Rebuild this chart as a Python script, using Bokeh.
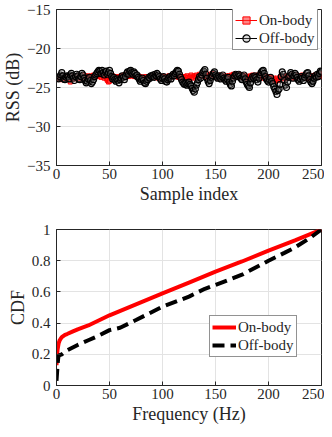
from bokeh.plotting import figure
from bokeh.layouts import column
from bokeh.models import FixedTicker, CustomJSTickFormatter, Legend, LegendItem, Range1d
from bokeh.embed import file_html
from bokeh.resources import INLINE

FONT = "'Liberation Serif', 'Times New Roman', serif"
TXT = "#262626"

sample_index = list(range(1, 251))

on_body_rss = [
    -23.8, -23.6, -23.9, -23.7, -24.0, -23.6, -23.5, -23.8, -23.9, -23.6,
    -23.7, -24.0, -24.3, -23.9, -23.6, -23.5, -23.7, -23.9, -23.6, -23.8,
    -23.5, -23.7, -23.9, -23.6, -23.4, -23.7, -23.8, -23.5, -23.6, -23.9,
    -23.7, -23.5, -23.8, -23.6, -23.4, -23.7, -23.5, -23.3, -23.6, -23.4,
    -23.5, -23.7, -23.4, -23.6, -23.8, -23.5, -23.9, -24.1, -24.3, -24.2,
    -23.8, -23.6, -23.5, -23.7, -23.9, -23.6, -23.8, -24.0, -23.7, -23.6,
    -23.5, -23.8, -23.6, -23.4, -23.7, -23.3, -23.5, -23.6, -23.4, -23.3,
    -23.5, -23.4, -23.6, -23.3, -23.5, -23.7, -23.5, -23.8, -23.6, -23.9,
    -23.7, -24.0, -23.8, -23.6, -23.9, -24.1, -23.8, -23.6, -23.7, -23.5,
    -23.6, -23.4, -23.7, -23.5, -23.6, -23.8, -23.5, -23.7, -23.9, -23.6,
    -23.8, -23.6, -23.9, -24.0, -23.7, -23.5, -23.8, -23.6, -23.4, -23.6,
    -23.5, -23.3, -23.6, -23.4, -23.7, -23.5, -23.8, -23.6, -23.9, -23.7,
    -23.6, -23.8, -23.5, -23.7, -23.9, -23.6, -23.4, -23.7, -23.8, -23.5,
    -23.6, -23.4, -23.7, -23.5, -23.3, -23.6, -23.4, -23.5, -23.3, -23.6,
    -23.4, -23.7, -23.5, -23.6, -23.3, -23.5, -23.2, -23.4, -23.6, -23.5,
    -23.7, -23.5, -23.8, -23.6, -23.4, -23.7, -23.9, -23.6, -23.8, -23.5,
    -23.6, -23.8, -23.5, -23.7, -23.4, -23.6, -23.3, -23.5, -23.7, -23.4,
    -23.6, -23.3, -23.5, -23.7, -23.4, -23.6, -23.8, -23.5, -23.7, -23.9,
    -23.6, -23.8, -23.5, -23.7, -23.4, -23.6, -23.5, -23.8, -23.6, -23.4,
    -23.5, -23.7, -23.4, -23.6, -23.8, -23.5, -23.7, -23.9, -23.6, -23.8,
    -24.0, -23.7, -23.9, -24.1, -23.8, -24.2, -24.0, -23.8, -24.1, -23.9,
    -23.7, -23.5, -23.8, -23.6, -23.9, -23.7, -23.5, -23.6, -23.8, -23.5,
    -23.4, -23.6, -23.8, -23.5, -23.7, -23.4, -23.6, -23.8, -23.5, -23.7,
    -23.6, -23.4, -23.7, -23.5, -23.8, -23.6, -23.4, -23.7, -23.9, -23.6,
    -23.8, -23.5, -23.7, -23.4, -23.6, -23.5, -23.3, -23.6, -23.4, -23.2,
]

off_body_rss = [
    -23.8, -23.9, -23.6, -23.4, -23.1, -23.5, -23.9, -24.0, -23.7, -23.5,
    -23.6, -23.9, -23.4, -23.2, -23.5, -23.8, -24.1, -23.6, -23.3, -23.5,
    -23.9, -24.0, -23.6, -23.2, -23.4, -23.8, -24.1, -24.4, -24.2, -23.9,
    -23.7, -24.1, -24.5, -24.3, -24.0, -23.6, -23.4, -23.2, -23.0, -22.8,
    -22.9, -23.2, -22.8, -23.1, -23.4, -23.0, -22.9, -23.3, -23.1, -22.8,
    -23.2, -23.6, -23.9, -23.7, -24.0, -24.2, -23.9, -24.1, -24.4, -24.0,
    -23.8, -23.5, -23.7, -24.0, -23.6, -23.2, -23.0, -23.3, -22.9, -22.8,
    -23.1, -23.3, -23.0, -23.2, -23.5, -23.4, -23.7, -23.9, -24.2, -24.0,
    -23.8, -24.1, -24.4, -24.5, -24.2, -24.0, -23.7, -23.8, -23.5, -23.6,
    -23.4, -23.7, -23.3, -23.5, -23.2, -23.4, -23.6, -23.9, -24.1, -23.8,
    -23.6, -23.9, -24.2, -24.3, -24.0, -23.8, -23.6, -23.9, -23.5, -23.3,
    -23.5, -23.2, -23.0, -22.8, -22.9, -23.3, -23.7, -24.0, -24.3, -24.5,
    -24.6, -24.4, -24.7, -24.5, -24.3, -24.6, -24.8, -25.1, -25.4, -25.6,
    -25.2, -24.7, -24.4, -24.0, -23.6, -23.8, -23.4, -23.1, -22.9, -22.7,
    -23.3, -23.8, -24.2, -24.5, -24.1, -23.7, -23.5, -23.2, -23.0, -23.4,
    -23.6, -23.8, -23.5, -23.7, -23.9, -23.6, -23.4, -23.8, -24.0, -24.2,
    -23.9, -23.7, -24.3, -24.6, -24.8, -24.2, -23.8, -23.5, -23.3, -23.4,
    -23.6, -23.3, -23.5, -23.8, -24.0, -23.6, -23.4, -23.9, -24.3, -24.6,
    -24.8, -25.0, -24.4, -23.9, -23.6, -23.8, -23.5, -23.7, -24.0, -24.3,
    -23.8, -23.4, -23.1, -22.9, -22.8, -23.2, -23.6, -23.9, -24.1, -24.3,
    -24.0, -23.7, -24.2, -24.5, -24.9, -25.2, -25.5, -25.9, -25.4, -25.2,
    -24.6, -23.6, -23.0, -23.3, -24.1, -24.7, -25.0, -24.3, -23.7, -23.5,
    -23.1, -23.3, -23.8, -23.5, -23.2, -23.4, -23.7, -24.0, -24.2, -23.9,
    -23.6, -23.8, -24.1, -23.7, -23.4, -23.2, -23.1, -23.5, -24.0, -24.3,
    -24.5, -24.2, -23.8, -23.5, -23.7, -23.3, -23.6, -23.2, -22.9, -23.0,
]

rss_yticks = [-35, -30, -25, -20, -15]
x_ticks = [0, 50, 100, 150, 200, 250]
cdf_yticks = [0, 0.2, 0.4, 0.6, 0.8, 1.0]

on_freq = [0, 0.5, 1, 2, 3, 4, 5, 6, 8, 10, 15, 20, 30, 50, 75, 100, 125, 150, 175, 200, 225, 250]
on_cdf = [0.13, 0.19, 0.23, 0.27, 0.29, 0.30, 0.31, 0.315, 0.325, 0.33, 0.345, 0.36, 0.385,
          0.45, 0.52, 0.59, 0.66, 0.73, 0.795, 0.865, 0.93, 1.0]

off_freq = [0, 0.5, 1, 1.5, 2, 3, 5, 10, 20, 30, 40, 50, 60, 75, 100, 125, 140, 150, 175, 200,
            215, 225, 240, 250]
off_cdf = [0.03, 0.08, 0.13, 0.17, 0.19, 0.195, 0.2, 0.225, 0.26, 0.29, 0.32, 0.355, 0.37, 0.42,
           0.505, 0.57, 0.62, 0.645, 0.71, 0.8, 0.85, 0.885, 0.95, 1.0]


def style(p, yticks):
    p.outline_line_color = TXT
    p.outline_line_width = 1
    p.background_fill_color = "white"
    p.border_fill_color = "white"
    for ax in (p.xaxis[0], p.yaxis[0]):
        ax.axis_line_color = TXT
        ax.major_tick_line_color = TXT
        ax.major_tick_in = 4
        ax.major_tick_out = 0
        ax.minor_tick_line_color = None
        ax.major_label_text_font = FONT
        ax.major_label_text_font_size = "15px"
        ax.major_label_text_color = TXT
        ax.axis_label_text_font = FONT
        ax.axis_label_text_font_size = "18px"
        ax.axis_label_text_font_style = "normal"
        ax.axis_label_text_color = TXT
    p.xaxis[0].ticker = FixedTicker(ticks=x_ticks)
    p.yaxis[0].ticker = FixedTicker(ticks=yticks)
    p.xaxis[0].major_label_standoff = 3
    p.xaxis[0].axis_label_standoff = 2
    p.yaxis[0].major_label_standoff = 6
    p.yaxis[0].axis_label_standoff = 1
    p.xgrid.grid_line_color = "#e3e3e3"
    p.ygrid.grid_line_color = "#e3e3e3"
    p.xgrid.ticker = FixedTicker(ticks=x_ticks)
    p.ygrid.ticker = FixedTicker(ticks=yticks)


def style_legend(lg):
    lg.label_text_font = FONT
    lg.label_text_font_size = "15px"
    lg.label_text_color = TXT
    lg.border_line_color = TXT
    lg.border_line_width = 1
    lg.background_fill_color = "white"
    lg.background_fill_alpha = 1
    lg.padding = 2
    lg.spacing = 0
    lg.margin = 0
    lg.label_standoff = 2
    lg.label_height = 18
    lg.glyph_height = 18
    lg.glyph_width = 22


# ---------- top figure ----------
p1 = figure(width=324, height=218, output_backend="svg", toolbar_location=None,
            x_range=Range1d(0, 250), y_range=Range1d(-35, -15),
            min_border_left=45, min_border_right=3, min_border_top=9, min_border_bottom=53)
style(p1, rss_yticks)
p1.xaxis[0].axis_label = "Sample index"
p1.yaxis[0].axis_label = "RSS (dB)"

l_on = p1.line(sample_index, on_body_rss, line_color="#ff0000", line_width=1)
s_on = p1.scatter(sample_index, on_body_rss, marker="square", size=4,
                  line_color="#ff0000", fill_color="#ff3333", fill_alpha=0.6, line_width=1)
l_off = p1.line(sample_index, off_body_rss, line_color="black", line_width=1)
s_off = p1.scatter(sample_index, off_body_rss, marker="circle", size=6,
                   line_color="black", fill_color="#888888", fill_alpha=0.3, line_width=1.2)

lg1 = Legend(items=[LegendItem(label="On-body", renderers=[l_on, s_on]),
                    LegendItem(label="Off-body", renderers=[l_off, s_off])],
             location=(176, 115))
style_legend(lg1)
p1.add_layout(lg1, "center")

# ---------- bottom figure ----------
p2 = figure(width=324, height=209, output_backend="svg", toolbar_location=None,
            x_range=Range1d(0, 250), y_range=Range1d(0, 1),
            min_border_left=45, min_border_right=3, min_border_top=11, min_border_bottom=42)
style(p2, cdf_yticks)
p2.xaxis[0].axis_label = "Frequency (Hz)"
p2.yaxis[0].axis_label = "CDF"
p2.yaxis[0].formatter = CustomJSTickFormatter(code="return String(Math.round(tick*10)/10);")

c_on = p2.line(on_freq, on_cdf, line_color="#ff0000", line_width=4)
c_off = p2.line(off_freq, off_cdf, line_color="black", line_width=4, line_dash="12 6")

lg2 = Legend(items=[LegendItem(label="On-body", renderers=[c_on]),
                    LegendItem(label="Off-body", renderers=[c_off])],
             location=(153, 28))
style_legend(lg2)
lg2.glyph_width = 24
p2.add_layout(lg2, "center")

layout = column(p1, p2, spacing=0)
open("out.html", "w").write(file_html(layout, INLINE))
